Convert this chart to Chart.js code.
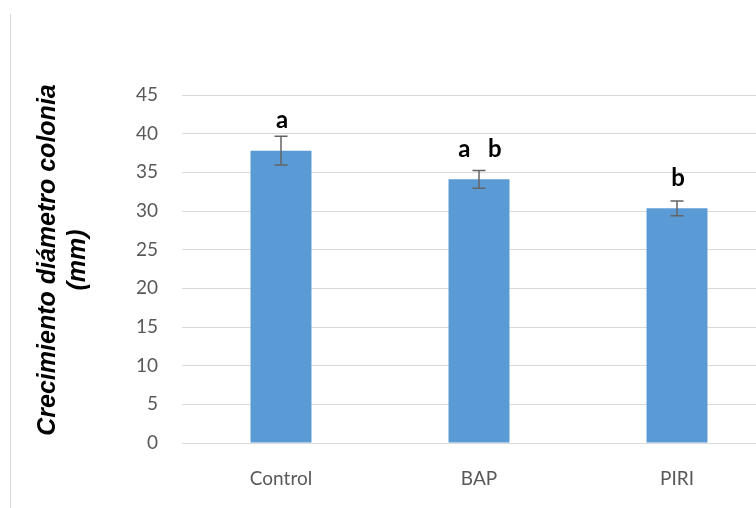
<!DOCTYPE html>
<html lang="es">
<head>
<meta charset="UTF-8">
<title>Crecimiento diámetro colonia</title>
<script src="https://cdn.jsdelivr.net/npm/chart.js"></script>
<style>
  html, body { margin: 0; padding: 0; background: #fff; overflow: hidden; }
  #wrap { width: 756px; height: 508px; overflow: hidden; }
</style>
</head>
<body>
<div id="wrap"><canvas id="chart" width="800" height="508"></canvas></div>
<script>
// data
const categories = ['Control', 'BAP', 'PIRI'];
const means = [37.8, 34.1, 30.35];
const errors = [1.85, 1.15, 0.95];
const letters = ['a', 'a   b', 'b'];
const titleLines = ['Crecimiento diámetro colonia', '(mm)'];

// error bars, significance letters, y title and the left frame line
const extras = {
    id: 'extras',
    beforeDraw(chart) {
        const ctx = chart.ctx;
        ctx.save();
        ctx.strokeStyle = '#d9d9d9';
        ctx.lineWidth = 1;
        ctx.beginPath();
        ctx.moveTo(10.5, 14);
        ctx.lineTo(10.5, 508);
        ctx.stroke();
        ctx.restore();
    },
    afterDatasetsDraw(chart) {
        const ctx = chart.ctx;
        const y = chart.scales.y;
        const bars = chart.getDatasetMeta(0).data;
        ctx.save();
        bars.forEach((bar, i) => {
            const top = y.getPixelForValue(means[i] + errors[i]);
            const bot = y.getPixelForValue(means[i] - errors[i]);
            ctx.strokeStyle = '#646464';
            ctx.lineWidth = 1.5;
            ctx.beginPath();
            ctx.moveTo(bar.x, top);
            ctx.lineTo(bar.x, bot);
            ctx.moveTo(bar.x - 6.5, top);
            ctx.lineTo(bar.x + 6.5, top);
            ctx.moveTo(bar.x - 6.5, bot);
            ctx.lineTo(bar.x + 6.5, bot);
            ctx.stroke();

            ctx.fillStyle = '#000';
            ctx.font = 'bold 24px Lato';
            ctx.textAlign = 'center';
            ctx.textBaseline = 'middle';
            ctx.fillText(letters[i], bar.x + 1, bar.y - 30);
        });
        ctx.restore();
    },
    afterDraw(chart) {
        const ctx = chart.ctx;
        ctx.save();
        ctx.translate(48, 260);
        ctx.rotate(-Math.PI / 2);
        ctx.fillStyle = '#000';
        ctx.font = 'italic bold 25px "Liberation Sans"';
        ctx.textAlign = 'center';
        ctx.textBaseline = 'middle';
        titleLines.forEach((t, i) => ctx.fillText(t, 0, i * 30));
        ctx.restore();
    }
};

const ctx = document.getElementById('chart').getContext('2d');
new Chart(ctx, {
    type: 'bar',
    data: {
        labels: categories,
        datasets: [{
            data: means,
            backgroundColor: '#5b9bd5',
            borderWidth: 0,
            categoryPercentage: 1,
            barPercentage: 0.308
        }]
    },
    options: {
        responsive: false,
        animation: false,
        layout: { padding: { top: 95, right: 24, bottom: 0, left: 0 } },
        plugins: {
            legend: { display: false },
            tooltip: { enabled: false }
        },
        scales: {
            x: {
                grid: { display: false },
                border: { display: false },
                ticks: {
                    color: '#595959',
                    font: { family: 'Lato', size: 19 },
                    padding: 16
                },
                afterFit(scale) { scale.height = 65; }
            },
            y: {
                min: 0,
                max: 45,
                grid: { color: '#d9d9d9', drawTicks: false },
                border: { display: false },
                ticks: {
                    stepSize: 5,
                    color: '#595959',
                    font: { family: 'Lato', size: 19 },
                    padding: 24
                },
                afterFit(scale) { scale.width = 182; }
            }
        }
    },
    plugins: [extras]
});
</script>
</body>
</html>
